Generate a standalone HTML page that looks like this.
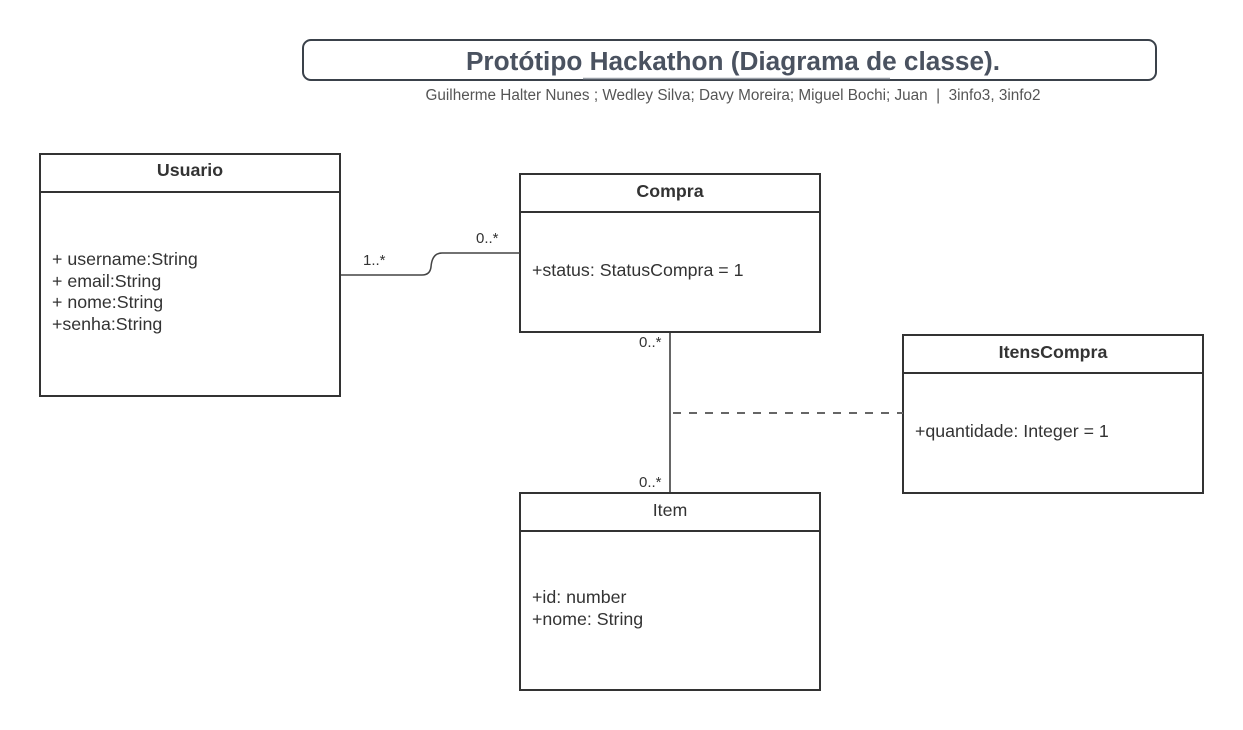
<!DOCTYPE html>
<html><head><meta charset="utf-8"><style>
html,body{margin:0;padding:0;background:#fff;width:1243px;height:730px;overflow:hidden}
text{font-family:"Liberation Sans",Arial,sans-serif;fill:#333}
</style></head><body>
<svg width="1243" height="730" viewBox="0 0 1243 730" xmlns="http://www.w3.org/2000/svg">
<rect x="303" y="40" width="853" height="40" rx="8" fill="#fff" stroke="#3a414a" stroke-width="2"/>
<line x1="583" y1="78.5" x2="890" y2="78.5" stroke="#9aa0a8" stroke-width="1.5"/>
<text x="733" y="70" text-anchor="middle" font-size="26.2" font-weight="bold" style="fill:#4a5260">Protótipo Hackathon (Diagrama de classe).</text>
<text x="733" y="100" text-anchor="middle" font-size="15.3" style="fill:#555;white-space:pre" xml:space="preserve">Guilherme Halter Nunes ; Wedley Silva; Davy Moreira; Miguel Bochi; Juan  |  3info3, 3info2</text>

<g fill="#fff" stroke="#333" stroke-width="2">
<rect x="40" y="154" width="300" height="242"/>
<line x1="40" y1="192" x2="340" y2="192"/>
<rect x="520" y="174" width="300" height="158"/>
<line x1="520" y1="212" x2="820" y2="212"/>
<rect x="903" y="335" width="300" height="158"/>
<line x1="903" y1="373" x2="1203" y2="373"/>
<rect x="520" y="493" width="300" height="197"/>
<line x1="520" y1="531" x2="820" y2="531"/>
</g>

<path d="M341 275 H422 Q430 275 431 267 Q432 253 442 253 H520" fill="none" stroke="#444" stroke-width="1.5"/>
<line x1="670" y1="332" x2="670" y2="493" stroke="#333" stroke-width="1.5"/>
<line x1="673" y1="413" x2="903" y2="413" stroke="#666" stroke-width="2" stroke-dasharray="8 8"/>

<g font-size="15">
<text x="363" y="265">1..*</text>
<text x="476" y="243">0..*</text>
<text x="639" y="347">0..*</text>
<text x="639" y="487">0..*</text>
</g>

<g font-size="17.8">
<text x="190" y="176" text-anchor="middle" font-weight="bold">Usuario</text>
<text x="52" y="265">+ username:String</text>
<text x="52" y="287">+ email:String</text>
<text x="52" y="308">+ nome:String</text>
<text x="52" y="330">+senha:String</text>
<text x="670" y="197" text-anchor="middle" font-weight="bold">Compra</text>
<text x="532" y="276">+status: StatusCompra = 1</text>
<text x="1053" y="358" text-anchor="middle" font-weight="bold">ItensCompra</text>
<text x="915" y="437">+quantidade: Integer = 1</text>
<text x="670" y="516" text-anchor="middle">Item</text>
<text x="532" y="603">+id: number</text>
<text x="532" y="625">+nome: String</text>
</g>
</svg>
</body></html>
